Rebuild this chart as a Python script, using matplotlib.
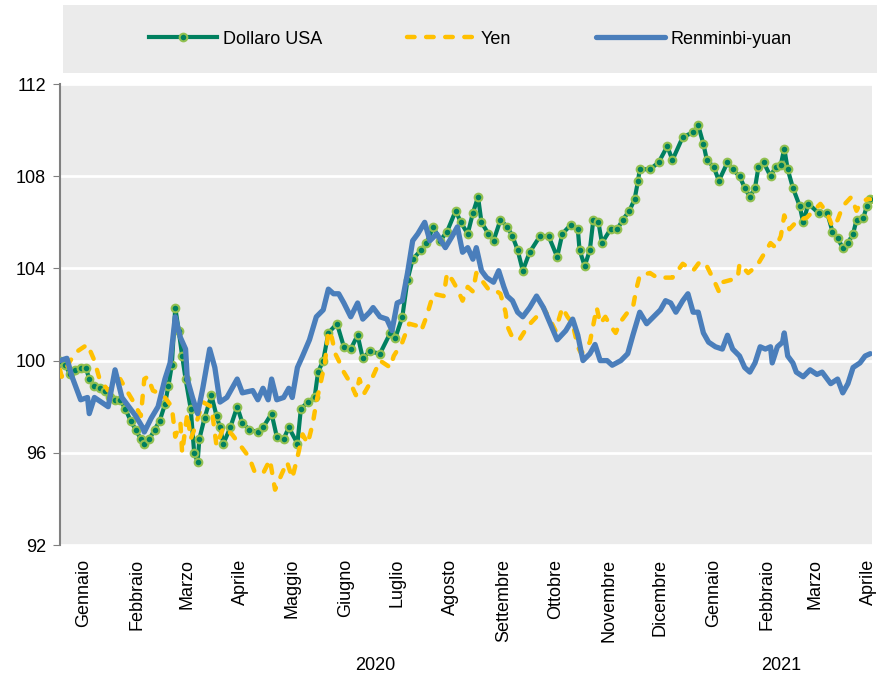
import pandas as pd
import matplotlib.pyplot as plt
from matplotlib.transforms import blended_transform_factory

plt.rcParams['font.family'] = ['Liberation Sans Narrow', 'Liberation Sans', 'DejaVu Sans']

# Data: day offsets from 1 Jan 2020 and index values
START = pd.Timestamp('2020-01-01')

dollar_days = [0, 3, 6, 9, 12, 15, 17, 20, 23, 26, 29, 32, 35, 38, 41, 44, 47, 49, 52, 55,
               58, 61, 63, 65, 67, 69, 71, 73, 76, 78, 80, 81, 84, 88, 91, 93, 95, 99, 103, 106,
               110, 115, 118, 123, 126, 130, 133, 138, 140, 144, 148, 150, 153, 156, 161, 165, 169, 173, 176, 180,
               186, 192, 195, 199, 202, 205, 210, 213, 217, 221, 225, 230, 233, 237, 240, 243, 245, 249, 252, 256,
               260, 263, 266, 269, 273, 279, 284, 289, 292, 297, 301, 302, 305, 308, 310, 313, 315, 320, 324, 327,
               331, 334, 336, 337, 343, 348, 353, 356, 362, 368, 371, 374, 376, 380, 383, 388, 391, 395, 398, 401,
               404, 406, 409, 413, 416, 419, 421, 423, 426, 430, 432, 435, 441, 446, 449, 452, 455, 458, 461, 463,
               467, 469, 471]
dollar_vals = [100.0, 99.8, 99.4, 99.6, 99.7, 99.7, 99.2, 98.9, 98.8, 98.7, 98.4, 98.3, 98.3, 97.9, 97.4, 97.0, 96.6, 96.4, 96.6, 97.0,
               97.4, 98.1, 98.9, 99.8, 102.3, 101.3, 100.2, 99.2, 97.9, 96.0, 95.6, 96.6, 97.5, 98.5, 97.6, 97.1, 96.4, 97.1, 98.0, 97.3,
               97.0, 96.9, 97.1, 97.7, 96.7, 96.6, 97.1, 96.4, 97.9, 98.2, 98.4, 99.5, 100.0, 101.2, 101.6, 100.6, 100.5, 101.1, 100.1, 100.4,
               100.3, 101.2, 101.0, 101.9, 103.5, 104.4, 104.8, 105.1, 105.8, 105.2, 105.6, 106.5, 106.0, 105.5, 106.4, 107.1, 106.0, 105.5, 105.2, 106.1,
               105.8, 105.4, 104.8, 103.9, 104.7, 105.4, 105.4, 104.5, 105.5, 105.9, 105.7, 104.8, 104.1, 104.8, 106.1, 106.0, 105.1, 105.7, 105.7, 106.1,
               106.5, 107.0, 107.8, 108.3, 108.3, 108.6, 109.3, 108.7, 109.7, 109.9, 110.2, 109.4, 108.7, 108.4, 107.8, 108.6, 108.3, 108.0, 107.5, 107.1,
               107.5, 108.4, 108.6, 108.0, 108.4, 108.5, 109.2, 108.3, 107.5, 106.7, 106.0, 106.8, 106.4, 106.4, 105.6, 105.3, 104.9, 105.1, 105.5, 106.1,
               106.2, 106.7, 107.0]

yen_days = [0, 1, 6, 10, 16, 20, 23, 28, 35, 38, 42, 47, 49, 51, 54, 57, 61, 65, 67, 70,
            71, 74, 76, 78, 83, 88, 91, 95, 100, 105, 110, 113, 118, 122, 125, 129, 132, 135, 138, 141,
            144, 147, 149, 152, 154, 156, 158, 160, 162, 165, 169, 172, 174, 177, 180, 186, 192, 194, 199, 203,
            208, 210, 213, 217, 223, 225, 228, 231, 234, 237, 240, 242, 245, 249, 252, 256, 259, 260, 263, 267,
            272, 277, 281, 284, 288, 292, 295, 298, 301, 303, 308, 312, 314, 317, 320, 323, 326, 330, 333, 335,
            337, 343, 347, 351, 356, 362, 368, 372, 376, 380, 383, 385, 390, 394, 395, 400, 405, 409, 413, 416,
            419, 421, 424, 429, 434, 438, 442, 446, 449, 452, 455, 460, 463, 465, 469, 471]
yen_vals = [99.6, 99.3, 100.0, 100.4, 100.7, 100.0, 99.2, 98.7, 99.2, 98.8, 98.3, 97.6, 99.2, 99.3, 98.7, 98.6, 98.4, 98.0, 96.7, 97.3,
            96.0, 97.7, 96.6, 97.0, 98.2, 98.0, 96.3, 97.1, 96.8, 96.3, 95.8, 95.2, 95.1, 95.7, 94.4, 95.1, 95.6, 94.9, 95.8, 96.8,
            96.4, 97.3, 98.2, 99.2, 99.9, 101.3, 101.0, 100.3, 100.0, 99.5, 99.0, 98.5, 99.2, 98.6, 99.0, 100.0, 99.7, 100.2, 100.8, 101.6,
            101.5, 101.3, 101.9, 102.9, 102.8, 103.8, 103.5, 103.1, 102.6, 103.2, 103.0, 103.8, 103.5, 103.1, 103.1, 102.9, 102.1, 101.5, 101.0, 100.9,
            101.5, 101.9, 102.3, 101.9, 101.3, 102.3, 101.9, 101.6, 100.6, 100.3, 100.8, 102.3, 101.6, 101.9, 101.5, 101.2, 101.7, 102.1, 102.3, 103.1,
            103.7, 103.8, 103.6, 103.6, 103.6, 104.2, 103.9, 104.3, 104.1, 103.5, 103.0, 103.4, 103.5, 103.6, 104.2, 103.8, 104.1, 104.6, 105.1, 104.9,
            105.4, 106.3, 105.7, 106.1, 106.2, 106.5, 106.8, 106.4, 105.8, 106.1, 106.7, 107.1, 106.5, 106.8, 107.0, 107.0]

yuan_days = [0, 4, 7, 12, 16, 17, 20, 24, 28, 32, 36, 40, 44, 48, 49, 53, 57, 61, 64, 67,
             70, 73, 74, 77, 80, 83, 87, 90, 93, 97, 103, 106, 112, 115, 118, 121, 123, 126, 130, 133,
             135, 138, 141, 145, 149, 153, 156, 159, 162, 165, 169, 173, 176, 180, 182, 186, 190, 193, 196, 199,
             202, 205, 208, 212, 215, 219, 224, 228, 231, 234, 237, 240, 242, 245, 248, 252, 255, 258, 260, 263,
             266, 269, 273, 277, 281, 285, 289, 294, 298, 301, 304, 308, 311, 314, 318, 321, 326, 330, 333, 337,
             341, 345, 349, 352, 355, 358, 362, 365, 368, 371, 374, 377, 381, 385, 388, 391, 395, 398, 401, 404,
             407, 410, 413, 414, 417, 420, 421, 423, 426, 428, 432, 436, 440, 443, 448, 452, 455, 458, 461, 465,
             468, 471]
yuan_vals = [100.0, 100.1, 99.3, 98.3, 98.4, 97.7, 98.4, 98.2, 98.0, 99.6, 98.4, 98.0, 97.6, 97.1, 96.9, 97.5, 98.0, 99.2, 99.9, 101.9,
             101.0, 100.5, 99.2, 98.4, 97.7, 98.8, 100.5, 99.7, 98.2, 98.4, 99.2, 98.6, 98.7, 98.3, 98.8, 98.3, 99.2, 98.3, 98.4, 98.8,
             98.4, 99.7, 100.2, 100.9, 101.9, 102.2, 103.1, 102.9, 102.9, 102.5, 101.9, 102.5, 101.8, 102.1, 102.3, 101.9, 101.8, 101.3, 102.5, 102.6,
             103.8, 105.2, 105.5, 106.0, 105.2, 105.5, 104.9, 105.4, 105.8, 104.7, 104.9, 104.4, 104.9, 103.9, 103.6, 103.4, 103.9, 103.2, 102.8, 102.6,
             102.1, 101.9, 102.3, 102.8, 102.3, 101.6, 100.9, 101.3, 101.8, 101.1, 100.0, 100.3, 100.7, 100.0, 100.0, 99.8, 100.0, 100.3, 101.1, 102.1,
             101.6, 101.9, 102.2, 102.6, 102.5, 102.1, 102.6, 102.9, 102.1, 102.1, 101.2, 100.8, 100.6, 100.5, 101.1, 100.5, 100.2, 99.7, 99.5, 99.9,
             100.6, 100.5, 100.6, 99.9, 100.6, 100.8, 101.2, 100.2, 99.9, 99.5, 99.3, 99.6, 99.4, 99.5, 99.0, 99.2, 98.6, 99.0, 99.7, 99.9,
             100.2, 100.3]

month_labels = ['Gennaio', 'Febbraio', 'Marzo', 'Aprile', 'Maggio', 'Giugno', 'Luglio', 'Agosto',
                'Settembre', 'Ottobre', 'Novembre', 'Dicembre', 'Gennaio', 'Febbraio', 'Marzo', 'Aprile']
year_labels = ['2020', '2021']
y_ticks = [92, 96, 100, 104, 108, 112]

GREEN = '#00805F'
GREEN_EDGE = '#92C050'
YELLOW = '#FFC000'
BLUE = '#4A7EBB'
PANEL = '#EBEBEB'


def to_dates(days):
    return START + pd.to_timedelta(days, unit='D')


fig = plt.figure(figsize=(8.83, 6.81), dpi=100)
ax = fig.add_axes([60 / 883, 1 - 545 / 681, 812 / 883, 461 / 681])
ax.set_facecolor(PANEL)

l1, = ax.plot(to_dates(dollar_days), dollar_vals, color=GREEN, lw=3, marker='o', ms=5.5,
              mfc=GREEN, mec=GREEN_EDGE, mew=1.5, zorder=3, label='Dollaro USA')
l2, = ax.plot(to_dates(yen_days), yen_vals, color=YELLOW, lw=3.2, ls=(0, (1.7, 2.6)),
              dash_capstyle='round', zorder=4, label='Yen')
l3, = ax.plot(to_dates(yuan_days), yuan_vals, color=BLUE, lw=3.8, solid_capstyle='round',
              solid_joinstyle='round', zorder=5, label='Renminbi-yuan')

# axes
ax.set_ylim(92, 112)
ax.set_yticks(y_ticks)
ax.grid(axis='y', color='white', lw=2)
ax.set_axisbelow(True)
ax.set_xlim(START, START + pd.Timedelta(days=472))
tick_pos = pd.date_range('2020-01-01', periods=len(month_labels), freq='MS') + pd.Timedelta(days=14)
ax.set_xticks(tick_pos)
ax.set_xticklabels(month_labels, rotation=90, fontsize=13)
ax.tick_params(axis='x', length=0, pad=10)
ax.tick_params(axis='y', labelsize=13, length=5, color='#808080', direction='out', pad=5)
for s in ['top', 'right', 'bottom']:
    ax.spines[s].set_visible(False)
ax.spines['left'].set_color('#808080')
ax.spines['left'].set_linewidth(1.5)

# year labels centred under each year
trans = blended_transform_factory(ax.transData, fig.transFigure)
year_mid = [START + pd.Timedelta(days=183), pd.Timestamp('2021-01-01') + pd.Timedelta(days=53)]
for d, lab in zip(year_mid, year_labels):
    ax.text(d, 1 - 665 / 681, lab, transform=trans, ha='center', va='center', fontsize=13)

# legend box on top
lax = fig.add_axes([63 / 883, 1 - 73 / 681, 814 / 883, 68 / 681])
lax.set_facecolor(PANEL)
lax.set_xticks([])
lax.set_yticks([])
for s in lax.spines.values():
    s.set_visible(False)
lax.legend(handles=[l1, l2, l3], loc='center', ncol=3, frameon=False, fontsize=13,
           handlelength=3.8, columnspacing=4.7, handletextpad=0.3, markerscale=1)

fig.savefig('out.png', dpi=100)
